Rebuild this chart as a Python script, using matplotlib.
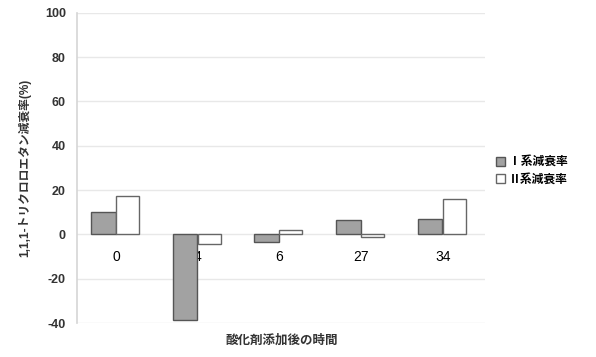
import numpy as np
import matplotlib

matplotlib.use("Agg")
import matplotlib.pyplot as plt

plt.rcParams["font.family"] = ["Liberation Sans", "Noto Sans CJK JP", "DejaVu Sans"]
plt.rcParams["axes.unicode_minus"] = False

# elapsed time after oxidant addition, and decay rates per system (%)
times = ["0", "4", "6", "27", "34"]
decay_sys1 = [10.2, -38.5, -3.6, 6.3, 7.0]
decay_sys2 = [17.4, -4.5, 2.2, -1.0, 16.0]
series_labels = ["Ⅰ系減衰率", "Ⅱ系減衰率"]
yticks = [-40, -20, 0, 20, 40, 60, 80, 100]

fig = plt.figure(figsize=(5.96, 3.57), dpi=100)
ax = fig.add_axes([0.129, 0.095, 0.685, 0.869])

x = np.arange(len(times))
ax.bar(x - 0.175, decay_sys1, 0.30, color="#a2a2a2", edgecolor="#555555",
       linewidth=1.0, label=series_labels[0], zorder=2)
ax.bar(x + 0.12, decay_sys2, 0.28, color="white", edgecolor="#666666",
       linewidth=1.0, label=series_labels[1], zorder=2)

ax.set_xlim(-0.5, len(times) - 0.5)
ax.set_ylim(-40, 100)
ax.set_yticks(yticks)
ax.set_yticklabels([str(v) for v in yticks], fontsize=9, fontweight="bold",
                   color="#333333")
ax.set_xticks(x - 0.02)
ax.set_xticklabels(times, fontsize=9, fontweight="bold", color="#333333")

# category labels sit just under the zero line
ax.set_axisbelow(True)
ax.spines["bottom"].set_position(("data", 0))
ax.spines["bottom"].set_visible(False)
ax.tick_params(axis="x", length=0, pad=11)
ax.tick_params(axis="y", length=0, pad=8)
for side in ("top", "right"):
    ax.spines[side].set_visible(False)
ax.spines["left"].set_color("#d5d5d5")
ax.spines["left"].set_linewidth(1.2)
ax.grid(axis="y", color="#e8e8e8", linewidth=1.0)

ax.set_ylabel("1,1,1-トリクロロエタン減衰率(%)", fontsize=8.5,
              fontweight="bold", color="#333333", labelpad=10)
fig.text(0.472, 0.045, "酸化剤添加後の時間", fontsize=9, fontweight="bold",
         color="#333333", ha="center", va="center")

ax.legend(loc="center left", bbox_to_anchor=(1.0, 0.49), frameon=False,
          handlelength=0.8, handleheight=0.8, handletextpad=0.3,
          labelspacing=0.5, prop={"weight": "bold", "size": 8.5})

fig.savefig("out.png", dpi=100)
